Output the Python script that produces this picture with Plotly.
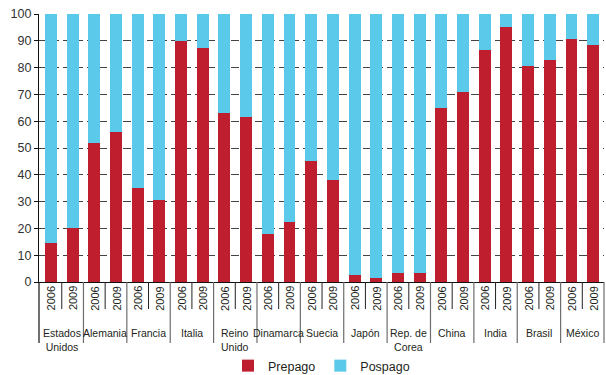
import plotly.graph_objects as go

countries = ["Estados<br>Unidos", "Alemania", "Francia", "Italia", "Reino<br>Unido",
             "Dinamarca", "Suecia", "Japón", "Rep. de<br>Corea", "China", "India",
             "Brasil", "México"]
years = ["2006", "2009"]
prepago = [14.6, 20.1, 51.9, 56.0, 35.1, 30.6, 89.9, 87.3, 63.1, 61.6,
           17.9, 22.4, 45.1, 38.1, 2.6, 1.5, 3.4, 3.4, 64.9, 70.9,
           86.6, 95.1, 80.6, 82.8, 90.7, 88.4]
pospago = [round(100 - v, 1) for v in prepago]

RED = "#BE1E2D"
BLUE = "#5BC9E9"
FONT = "Liberation Sans, Arial, sans-serif"
TXT = "#231F20"

n = len(prepago)
xs = list(range(n))

fig = go.Figure()
fig.add_trace(go.Bar(x=xs, y=prepago, name="Prepago", marker=dict(color=RED, line=dict(width=0))))
fig.add_trace(go.Bar(x=xs, y=pospago, name="Pospago", marker=dict(color=BLUE, line=dict(width=0))))

shapes = []
annotations = []
ph = 268.0  # plot height in px
def py(px_below):
    return -px_below / ph

for i, c in enumerate(countries):
    a, b = 2 * i, 2 * i + 1
    for k, yr in zip((a, b), years):
        annotations.append(dict(x=k, y=py(16.5), xref="x", yref="paper", text=yr,
                                textangle=-90, showarrow=False, xanchor="center", yanchor="middle",
                                font=dict(family=FONT, size=11, color=TXT)))
    shapes.append(dict(type="line", xref="x", yref="paper", x0=a + 0.5, x1=a + 0.5,
                       y0=0, y1=py(27), line=dict(color="#222222", width=1)))
    if i < len(countries) - 1:
        shapes.append(dict(type="line", xref="x", yref="paper", x0=b + 0.5, x1=b + 0.5,
                           y0=0, y1=py(61), line=dict(color="#6d6d6d", width=1.2)))
    annotations.append(dict(x=a + 0.5, y=py(43), xref="x", yref="paper", text=c,
                            showarrow=False, xanchor="center", yanchor="top",
                            font=dict(family=FONT, size=10.5, color=TXT)))

shapes.append(dict(type="line", xref="paper", yref="paper", x0=0, x1=0, y0=0, y1=py(61),
                   line=dict(color="#111111", width=1.2)))
shapes.append(dict(type="line", xref="paper", yref="paper", x0=1, x1=1, y0=0, y1=py(61),
                   line=dict(color="#6d6d6d", width=1.2)))

fig.update_layout(
    width=606, height=375,
    margin=dict(l=39, r=2, t=14, b=93),
    barmode="stack", bargap=0.45,
    plot_bgcolor="white", paper_bgcolor="white",
    font=dict(family=FONT, color=TXT),
    showlegend=True,
    legend=dict(orientation="h", x=0.5, xanchor="center", xref="paper",
                y=9 / 375, yref="container", yanchor="middle",
                font=dict(family=FONT, size=12.5, color=TXT), traceorder="normal",
                bgcolor="rgba(0,0,0,0)"),
    shapes=shapes, annotations=annotations,
    xaxis=dict(range=[-0.55, n - 0.5], showticklabels=False, ticks="", showgrid=False,
               zeroline=False, showline=True, linecolor="#111111", linewidth=1.2, fixedrange=True),
    yaxis=dict(range=[0, 100], tickvals=list(range(0, 101, 10)), showgrid=True,
               gridcolor="#444444", griddash="8px,4px", gridwidth=1,
               zeroline=False, showline=True, linecolor="#111111", linewidth=1.2,
               ticks="outside", ticklen=4, tickcolor="#111111",
               tickfont=dict(family=FONT, size=12.5, color="#333333")),
)

fig.write_html("out.html", config={"displayModeBar": False},
               post_script="document.body.style.margin='0';document.body.style.overflow='hidden';")
